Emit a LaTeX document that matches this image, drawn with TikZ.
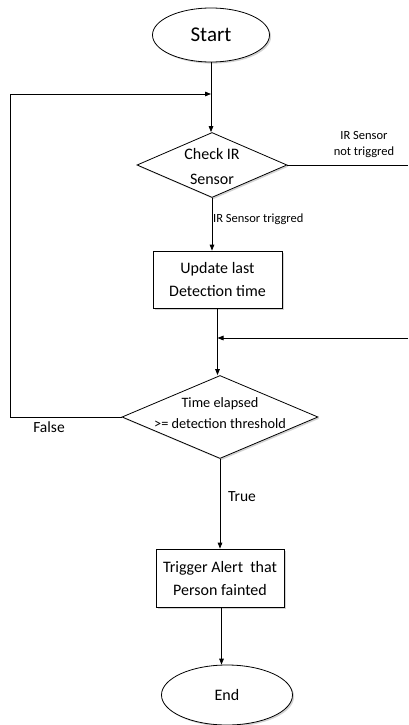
\documentclass[tikz,border=0pt]{standalone}
\usepackage{fontspec}
\setmainfont{Carlito}
\usetikzlibrary{shapes.geometric,arrows.meta,shadows,calc}

\tikzset{
  base/.style={draw=black, line width=0.8pt, fill=white,
    drop shadow={shadow xshift=1.6pt, shadow yshift=-1.6pt, opacity=0.35}},
  term/.style={base, ellipse, inner sep=0pt},
  procbox/.style={base, rectangle, inner sep=0pt, align=center,
    font=\fontsize{16}{23}\selectfont},
  decision/.style={base, diamond, inner sep=0pt},
  dtext/.style={align=center, inner sep=0pt},
  flow/.style={draw=black, line width=0.8pt},
  arr/.style={flow, -{Triangle[length=6pt,width=4.6pt]}},
  lbl/.style={inner sep=0pt, align=center}
}

\begin{document}
\begin{tikzpicture}[x=1pt, y=-1pt]
  \useasboundingbox (0,0) rectangle (408,725);

  % shapes
  \node[term, minimum width=117, minimum height=54,
        font=\fontsize{21}{24}\selectfont] (start) at (211,35) {Start};

  \node[decision, minimum width=150, minimum height=65] (check) at (212,165) {};
  \node[dtext, font=\fontsize{16}{25}\selectfont] (checkText) at (212,167)
       {Check IR\\Sensor};

  \node[procbox, minimum width=129, minimum height=57] (update) at (217.5,279.5)
       {Update last\\Detection time};

  \node[decision, minimum width=196, minimum height=83] (time) at (220,417) {};
  \node[dtext, font=\fontsize{14.3}{21}\selectfont] (timeText) at (220,413)
       {Time elapsed\\>= detection threshold};

  \node[procbox, minimum width=128, minimum height=58] (alert) at (220,578)
       {Trigger Alert\ \ that\\Person fainted};

  \node[term, minimum width=131, minimum height=60,
        font=\fontsize{16}{19}\selectfont] (end) at (227,695) {End};

  % free ends at the edges
  \coordinate (rout) at (408,165);
  \coordinate (rin) at (408,338);
  \coordinate (loopL) at (10,94);

  % connectors
  \draw[arr] (start.south) -- (start.south |- check.north);
  \draw[arr] (check.south) -- (check.south |- update.north);
  \draw[flow] (check.east) -- (rout);
  \draw[arr] (update.south) -- (update.south |- time.north);
  \draw[arr] (rin) -- (rin -| update.south);
  \draw[arr] (time.west) -- (time.west -| loopL) -- (loopL) -- (loopL -| start.south);
  \draw[arr] (time.south) -- (time.south |- alert.north);
  \draw[arr] ($(alert.south)+(1.5,0)$) -- ($(alert.south |- end.north)+(1.5,0)$);

  % connector labels
  \node[lbl, font=\fontsize{12.5}{16}\selectfont] (notTrig) at (364,145)
       {IR Sensor\\not triggred};
  \node[lbl, anchor=west, font=\fontsize{12.5}{15}\selectfont] (trig) at (213,219)
       {IR Sensor triggred};
  \node[lbl, font=\fontsize{15.5}{18}\selectfont] (falseLbl) at (49,427) {False};
  \node[lbl, font=\fontsize{15.5}{18}\selectfont] (trueLbl) at (242,497) {True};
\end{tikzpicture}
\end{document}
